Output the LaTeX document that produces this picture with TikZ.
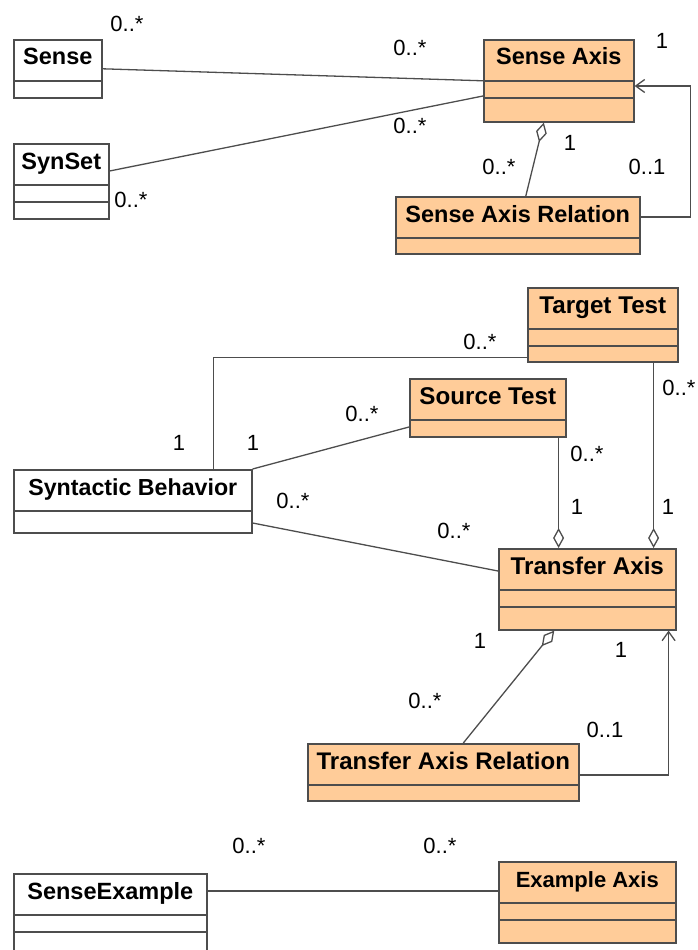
\documentclass[tikz,border=0pt]{standalone}
\usepackage{fontspec}
\setmainfont{Liberation Sans}
\usetikzlibrary{shapes.multipart, arrows.meta}
\definecolor{axisorange}{RGB}{255,204,153}
\definecolor{linegray}{RGB}{77,77,77}
\newcommand{\clstitle}[1]{\rule[-15pt]{0pt}{39.4pt}#1} % title compartment
\newcommand{\clscomp}[1]{\rule{0pt}{\dimexpr#1pt-1.6pt\relax}} % empty compartment
\tikzset{
	umlclass/.style={rectangle split, rectangle split parts=2, draw=linegray, line width=1.6pt,
		inner sep=0pt, anchor=north west, font=\bfseries\fontsize{23.5}{28}\selectfont}, % a class box
	plainclass/.style={umlclass, fill=white},
	axisclass/.style={umlclass, fill=axisorange},
	assoc/.style={draw=linegray, line width=1.3pt}, % plain association
	aggr/.style={assoc, -{Diamond[open, length=20pt, width=11pt]}}, % aggregation, diamond at the whole
	navi/.style={assoc, -{Straight Barb[length=9pt, width=13pt]}}, % navigable end
	mult/.style={inner sep=0pt, font=\fontsize{22}{26}\selectfont}, % multiplicity
}

\begin{document}
\begin{tikzpicture}[x=1pt, y=-1pt]
	\useasboundingbox (0,0) rectangle (697,950);
	% sense axis part
	\node[plainclass, minimum width=88pt] (sense) at (13,39) {\clstitle{Sense}\nodepart{two}\clscomp{17}};
	\node[plainclass, rectangle split parts=3, minimum width=95pt] (synset) at (13,143)
		{\clstitle{SynSet}\nodepart{two}\clscomp{17}\nodepart{three}\clscomp{17}};
	\node[axisclass, rectangle split parts=3, minimum width=150pt] (senseaxis) at (483,39)
		{\clstitle{Sense Axis}\nodepart{two}\clscomp{17}\nodepart{three}\clscomp{24}};
	\node[axisclass, minimum width=244pt] (saxrel) at (395,196)
		{\clstitle{Sense Axis Relation}\nodepart{two}\clscomp{16}};
	% transfer axis part
	\node[axisclass, rectangle split parts=3, minimum width=150pt, font=\bfseries\fontsize{24.2}{28}\selectfont] (target) at (527,287)
		{\clstitle{Target Test}\nodepart{two}\clscomp{17}\nodepart{three}\clscomp{16}};
	\node[axisclass, minimum width=156pt, font=\bfseries\fontsize{24.2}{28}\selectfont] (source) at (409,378)
		{\clstitle{Source Test}\nodepart{two}\clscomp{17}};
	\node[plainclass, minimum width=238pt, font=\bfseries\fontsize{23.2}{28}\selectfont] (synbeh) at (13,469)
		{\clstitle{Syntactic Behavior}\nodepart{two}\clscomp{22}};
	\node[axisclass, rectangle split parts=3, minimum width=177pt, font=\bfseries\fontsize{24.2}{28}\selectfont] (transfer) at (498,548)
		{\clstitle{Transfer Axis}\nodepart{two}\clscomp{17}\nodepart{three}\clscomp{23}};
	\node[axisclass, minimum width=271pt, font=\bfseries\fontsize{24}{28}\selectfont] (trelation) at (307,743)
		{\clstitle{Transfer Axis Relation}\nodepart{two}\clscomp{16}};
	% example axis part
	\node[plainclass, rectangle split parts=3, minimum width=193pt] (sexample) at (13,873)
		{\clstitle{SenseExample}\nodepart{two}\clscomp{17}\nodepart{three}\clscomp{24}};
	\node[axisclass, rectangle split parts=3, minimum width=177pt, font=\bfseries\fontsize{22}{26}\selectfont] (exaxis) at (498,861)
		{\clstitle{Example Axis}\nodepart{two}\clscomp{17}\nodepart{three}\clscomp{23}};

	\coordinate (stfoot) at ([xshift=-8pt]source.south east);
	\coordinate (ttfoot) at ([xshift=-25pt]target.south east);

	\draw[assoc] (sense.east) -- (senseaxis.west);
	\draw[assoc] ([yshift=-28pt]synset.north east) -- ([yshift=-57pt]senseaxis.north west);
	\draw[aggr] ([xshift=8pt]saxrel.north) -- ([xshift=-15pt]senseaxis.south);
	\draw[navi] ([yshift=-21pt]saxrel.north east) -- ++(50,0) |- ([yshift=-47pt]senseaxis.north east);
	%
	\draw[assoc] ([xshift=-39pt]synbeh.north east) |- ([yshift=5pt]target.south west);
	\draw[assoc] (synbeh.north east) -- ([yshift=-49pt]source.north west);
	\draw[assoc] ([yshift=-54pt]synbeh.north east) -- ([yshift=-23pt]transfer.north west);
	\draw[aggr] (stfoot) -- (stfoot |- transfer.north);
	\draw[aggr] (ttfoot) -- (ttfoot |- transfer.north);
	\draw[aggr] ([xshift=20pt]trelation.north) -- ([xshift=-33pt]transfer.south);
	\draw[navi] ([yshift=-32pt]trelation.north east) -| ([xshift=-8pt]transfer.south east);
	%
	\draw[assoc] ([yshift=-18pt]sexample.north east) -- ([yshift=-30pt]exaxis.north west);

	% multiplicities
	\node[mult] (m-sense) at (127,24) {0..*};
	\node[mult] (m-sa-sense) at (410,48) {0..*};
	\node[mult] (m-sa-self) at (662,41) {1};
	\node[mult] (m-sa-synset) at (410,126) {0..*};
	\node[mult] (m-sa-rel) at (570,143) {1};
	\node[mult] (m-rel-sa) at (499,167) {0..*};
	\node[mult] (m-rel-self) at (647,167) {0..1};
	\node[mult] (m-synset) at (131,200) {0..*};
	%
	\node[mult] (m-tt-sb) at (480,342) {0..*};
	\node[mult] (m-tt-ta) at (679,388) {0..*};
	\node[mult] (m-st-ta) at (587,454) {0..*};
	\node[mult] (m-ta-st) at (577,507) {1};
	\node[mult] (m-ta-tt) at (668,507) {1};
	\node[mult] (m-ta-sb) at (454,531) {0..*};
	\node[mult] (m-st-sb) at (362,414) {0..*};
	\node[mult] (m-sb-tt) at (179,443) {1};
	\node[mult] (m-sb-st) at (253,443) {1};
	\node[mult] (m-sb-ta) at (293,501) {0..*};
	\node[mult] (m-ta-rel) at (480,641) {1};
	\node[mult] (m-ta-self) at (621,650) {1};
	\node[mult] (m-rel-ta) at (425,701) {0..*};
	\node[mult] (m-trel-self) at (605,730) {0..1};
	%
	\node[mult] (m-se) at (249,846) {0..*};
	\node[mult] (m-ea) at (440,846) {0..*};
\end{tikzpicture}
\end{document}
